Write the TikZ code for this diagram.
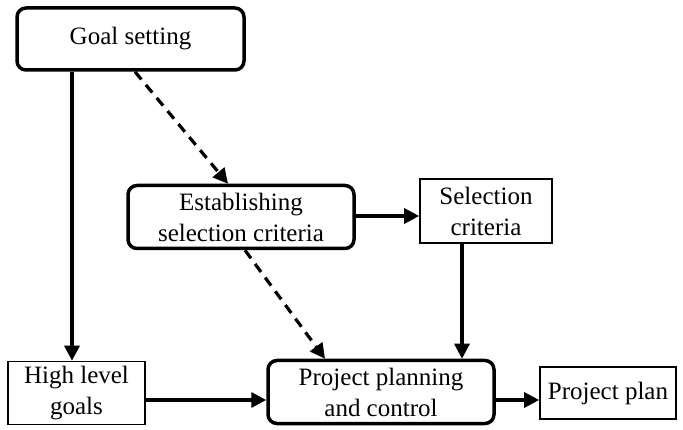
\documentclass[tikz,border=0pt]{standalone}
\usepackage{fontspec}
\setmainfont{Liberation Serif}
\usetikzlibrary{arrows.meta}
\begin{document}
\begin{tikzpicture}[x=1pt,y=-1pt,
  every node/.style={font=\fontsize{25}{31}\selectfont, align=center, inner sep=0pt},
  rbox/.style={draw, line width=3.5pt, rounded corners=9pt},
  pbox/.style={draw, line width=1.6pt},
  arr/.style={line width=3.2pt, -{Triangle[length=15pt,width=15pt]}},
  darr/.style={arr, dash pattern=on 10pt off 7pt}]
\useasboundingbox (0,0) rectangle (683,430);
\node[rbox, minimum width=227pt, minimum height=62pt] (goal) at (130.5,39) {Goal setting};
\node[rbox, minimum width=226pt, minimum height=63pt] (est) at (241,217) {Establishing\\selection criteria};
\node[pbox, minimum width=132pt, minimum height=64pt] (sel) at (486,211) {Selection\\criteria};
\node[pbox, minimum width=137pt, minimum height=63pt] (hlg) at (76.5,393) {High level\\goals};
\node[rbox, minimum width=226pt, minimum height=63pt] (ppc) at (381,392) {Project planning\\and control};
\node[pbox, minimum width=136pt, minimum height=52pt] (pp) at (608,393) {Project plan};
\draw[arr] (goal.south -| 72,0) -- (hlg.north -| 72,0);
\draw[darr] (goal.south -| 135,0) -- (est.north -| 228,0);
\draw[arr] (est.east |- 0,216) -- (sel.west |- 0,216);
\draw[darr] (est.south -| 245,0) -- (ppc.north -| 325,0);
\draw[arr] (sel.south -| 462,0) -- (ppc.north -| 462,0);
\draw[arr] (hlg.east |- 0,400) -- (ppc.west |- 0,400);
\draw[arr] (ppc.east |- 0,400) -- (pp.west |- 0,400);
\end{tikzpicture}
\end{document}
